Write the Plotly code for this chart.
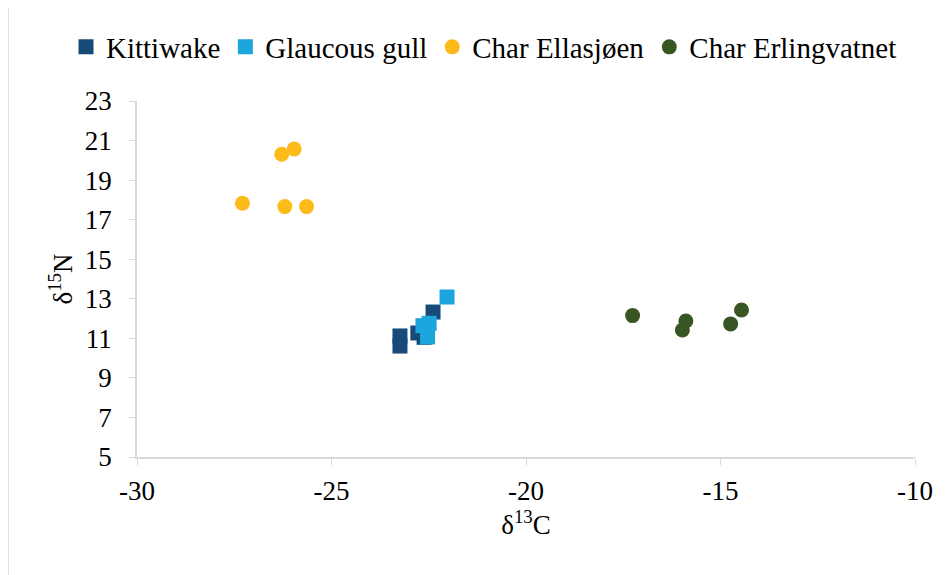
import plotly.graph_objects as go

kitti_x = [-23.24, -23.24, -22.78, -22.39, -22.62]
kitti_y = [11.12, 10.61, 11.27, 12.33, 11.05]
glauc_x = [-22.03, -22.49, -22.65, -22.53]
glauc_y = [13.09, 11.76, 11.64, 11.07]
ella_x = [-26.28, -25.96, -27.29, -26.20, -25.64]
ella_y = [20.31, 20.57, 17.83, 17.66, 17.66]
erl_x = [-17.26, -15.89, -15.98, -14.74, -14.46]
erl_y = [12.15, 11.88, 11.42, 11.73, 12.43]

x_ticks = [-30, -25, -20, -15, -10]
x_labels = ["-30", "-25", "-20", "-15", "-10"]
y_ticks = [5, 7, 9, 11, 13, 15, 17, 19, 21, 23]

FONT = "Liberation Serif"

fig = go.Figure()
fig.add_trace(go.Scatter(x=kitti_x, y=kitti_y, mode="markers", name="Kittiwake",
                         marker=dict(symbol="square", size=15, color="#174A78")))
fig.add_trace(go.Scatter(x=glauc_x, y=glauc_y, mode="markers", name="Glaucous gull",
                         marker=dict(symbol="square", size=15, color="#1BA6DE")))
fig.add_trace(go.Scatter(x=ella_x, y=ella_y, mode="markers", name="Char Ellasjøen",
                         marker=dict(symbol="circle", size=15, color="#FDBB1A")))
fig.add_trace(go.Scatter(x=erl_x, y=erl_y, mode="markers", name="Char Erlingvatnet",
                         marker=dict(symbol="circle", size=15, color="#375623")))

OFF = 8  # page body margin
W, H = 951 - OFF, 575 - OFF
L, R, T, B = 137 - OFF, 36, 101 - OFF, 118
pw, ph = W - L - R, H - T - B

def px_x(p):
    return (p - OFF - L) / pw

def px_y(p):
    return 1 - (p - OFF - T) / ph

tf = dict(family=FONT, size=27, color="black")

fig.update_layout(
    width=W, height=H,
    margin=dict(l=L, r=R, t=T, b=B, autoexpand=False),
    paper_bgcolor="white", plot_bgcolor="white",
    font=dict(family=FONT, size=26, color="black"),
    showlegend=True,
    legend=dict(orientation="h", x=px_x(66), xanchor="left", y=px_y(47), yanchor="middle",
                font=dict(family=FONT, size=29, color="black"), itemsizing="trace",
                tracegroupgap=0, bgcolor="rgba(0,0,0,0)"),
    xaxis=dict(range=[-30, -10], tickvals=x_ticks, ticktext=x_labels, showgrid=False, zeroline=False,
               showline=True, linecolor="#d9d9d9", linewidth=1.5,
               ticks="outside", ticklen=6, tickcolor="#d9d9d9",
               tickfont=tf, ticklabelstandoff=3,
               title=dict(text="δ<sup>13</sup>C", font=tf, standoff=6)),
    yaxis=dict(range=[5, 23], tickvals=y_ticks, showgrid=False, zeroline=False,
               showline=True, linecolor="#d9d9d9", linewidth=1.5,
               ticks="outside", ticklen=6, tickcolor="#d9d9d9",
               tickfont=tf, ticklabelstandoff=12,
               title=dict(text="δ<sup>15</sup>N", font=tf, standoff=4)),
    shapes=[dict(type="rect", xref="paper", yref="paper",
                 x0=px_x(8), x1=px_x(960), y0=px_y(590), y1=px_y(7),
                 line=dict(color="#d9d9d9", width=1.5), fillcolor="rgba(0,0,0,0)",
                 layer="below")],
)

fig.write_html("out.html")
